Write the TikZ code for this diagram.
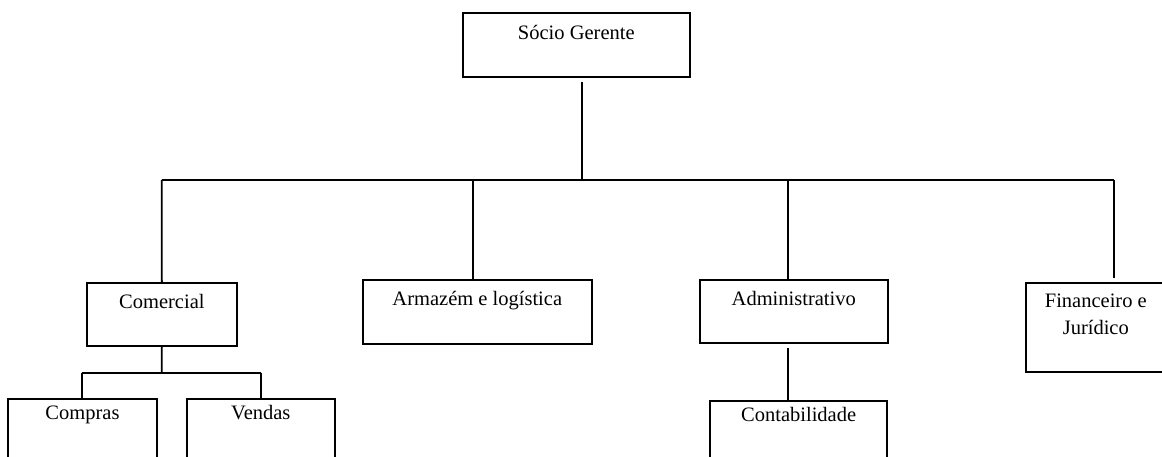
\documentclass[tikz,border=0pt]{standalone}
\usepackage{fontspec}
\setmainfont{Liberation Serif}
\begin{document}
\begin{tikzpicture}[x=1pt,y=1pt,
  orgbox/.style={draw=black, line width=1.8pt, rectangle, inner sep=0pt},
  lbl/.style={anchor=base, inner sep=0pt, font=\fontsize{20.5}{26.7}\selectfont},
  conn/.style={draw=black, line width=1.8pt}]
\useasboundingbox (0,0) rectangle (1162,-457);
\clip (0,0) rectangle (1162,-457);
% boxes
\node[orgbox, minimum width=227.3pt, minimum height=64pt] (socio) at (576.3,-45.3) {};
\node[orgbox, minimum width=149.7pt, minimum height=63.3pt] (com) at (161.85,-314.35) {};
\node[orgbox, minimum width=228.7pt, minimum height=64pt] (arm) at (477.3,-312) {};
\node[orgbox, minimum width=187.7pt, minimum height=63.3pt] (adm) at (793.8,-311.65) {};
\node[orgbox, minimum width=140pt, minimum height=88.4pt] (fin) at (1095.8,-327.5) {};
\node[orgbox, minimum width=148.4pt, minimum height=80pt] (comp) at (82.5,-439.3) {};
\node[orgbox, minimum width=148.3pt, minimum height=80pt] (vend) at (260.85,-439.3) {};
\node[orgbox, minimum width=177.3pt, minimum height=80pt] (cont) at (798.65,-441) {};
% labels
\node[lbl] (tsocio) at ([yshift=-27pt]socio.north) {Sócio Gerente};
\node[lbl] (tcom) at ([yshift=-26.7pt]com.north) {Comercial};
\node[lbl] (tarm) at ([yshift=-26.7pt]arm.north) {Armazém e logística};
\node[lbl] (tadm) at ([yshift=-26.7pt]adm.north) {Administrativo};
\node[lbl, anchor=north, align=center] (tfin) at ([yshift=-11.3pt]fin.north) {Financeiro e\\Jurídico};
\node[lbl] (tcomp) at ([yshift=-21pt]comp.north) {Compras};
\node[lbl] (tvend) at ([yshift=-21pt]vend.north) {Vendas};
\node[lbl] (tcont) at ([yshift=-21pt]cont.north) {Contabilidade};
% bus coordinates
\coordinate (top) at (581.7,-82);
\coordinate (b0) at (581.7,-180);
\coordinate (b1) at (161.7,-180);
\coordinate (b2) at (472.7,-180);
\coordinate (b3) at (788.3,-180);
\coordinate (b4) at (1114.3,-180);
\coordinate (c0) at (161.7,-372.7);
\coordinate (c1) at (81.7,-372.7);
\coordinate (c2) at (260.7,-372.7);
\coordinate (d0) at (788.3,-348.3);
% connectors
\draw[conn] (top) -- (b0);
\draw[conn] (b1) -- (b4);
\draw[conn] (b1) -- (com.north);
\draw[conn] (b2) -- (b2 |- arm.north);
\draw[conn] (b3) -- (788.3,-279);
\draw[conn] (b4) -- (1114.3,-278.3);
\draw[conn] (com.south) -- (c0);
\draw[conn] (c1) -- (c2);
\draw[conn] (c1) -- (c1 |- comp.north);
\draw[conn] (c2) -- (c2 |- vend.north);
\draw[conn] (d0) -- (d0 |- cont.north);
\end{tikzpicture}
\end{document}
